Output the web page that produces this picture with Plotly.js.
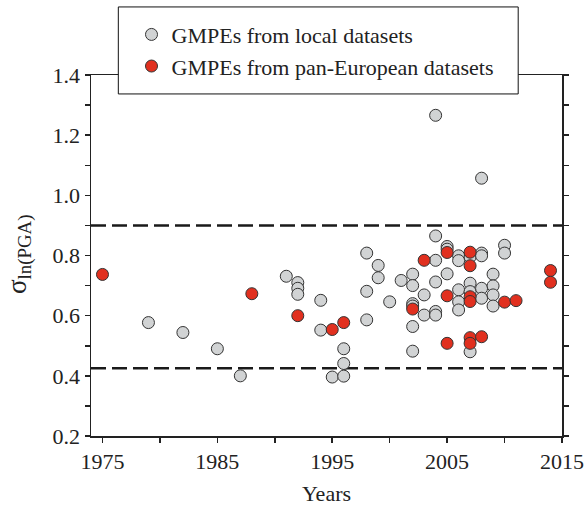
<!DOCTYPE html>
<html>
<head>
<meta charset="utf-8">
<script src="https://cdn.plot.ly/plotly-3.0.1.min.js"></script>
<style>html,body{margin:0;padding:0;background:#fff;}#chart{width:588px;height:507px;}</style>
</head>
<body>
<div id="chart"></div>
<script>
// GMPEs from local datasets
const localYears = [1979,1982,1985,1987,1991,1992,1992,1992,1994,1994,1995,1996,1996,1996,
  1998,1998,1998,1999,1999,2000,2001,2002,2002,2002,2002,2002,2002,2003,2003,
  2004,2004,2004,2004,2004,2004,2005,2005,2005,2006,2006,2006,2006,2006,
  2007,2007,2007,2007,2008,2008,2008,2008,2008,2009,2009,2009,2009,2010,2010];
const localSigma = [0.577,0.544,0.490,0.400,0.731,0.710,0.691,0.671,0.651,0.552,0.396,0.490,0.441,0.399,
  0.808,0.681,0.586,0.767,0.726,0.646,0.717,0.738,0.700,0.640,0.632,0.564,0.482,0.669,0.602,
  1.266,0.865,0.784,0.712,0.614,0.602,0.830,0.821,0.739,0.799,0.783,0.686,0.646,0.619,
  0.795,0.708,0.680,0.480,1.057,0.808,0.799,0.691,0.658,0.738,0.699,0.669,0.632,0.834,0.808];
// GMPEs from pan-European datasets
const panYears = [1975,1988,1992,1995,1996,2002,2003,2005,2005,2005,2007,2007,2007,2007,2007,2007,2008,2010,2011,2014,2014];
const panSigma = [0.737,0.673,0.600,0.554,0.577,0.622,0.784,0.810,0.666,0.508,0.811,0.766,0.663,0.647,0.527,0.508,0.530,0.645,0.650,0.750,0.711];
// reference levels (dashed lines)
const refLevels = [0.9, 0.425];
const seriesNames = ['GMPEs from local datasets', 'GMPEs from pan-European datasets'];
const xTickVals = [1975, 1985, 1995, 2005, 2015];
const yTitle = 'σ<sub>ln(PGA)</sub>';

const axisColor = '#222';
const serif = '"Liberation Serif", serif';

const traces = [
  {x: localYears, y: localSigma, name: seriesNames[0], type: 'scatter', mode: 'markers',
   marker: {size: 12, color: '#d1d3d4', line: {color: '#333', width: 1}}},
  {x: panYears, y: panSigma, name: seriesNames[1], type: 'scatter', mode: 'markers',
   marker: {size: 12, color: '#e1301f', line: {color: '#333', width: 1}}}
];

const shapes = refLevels.map(v => ({
  type: 'line', xref: 'paper', x0: 0, x1: 1, yref: 'y', y0: v, y1: v, layer: 'below',
  line: {color: '#1a1a1a', width: 2.5, dash: '15px,6px'}
}));
shapes.push({type: 'rect', xref: 'paper', yref: 'paper', x0: 0.058, x1: 0.907, y0: 0.9475, y1: 1.1885,
  fillcolor: '#fff', line: {color: '#111', width: 1}, layer: 'above'});

const layout = {
  width: 588, height: 507,
  margin: {l: 91, r: 25.5, t: 75.3, b: 71, pad: 0},
  paper_bgcolor: '#fff', plot_bgcolor: '#fff',
  font: {family: serif, size: 22, color: '#222'},
  showlegend: true,
  legend: {x: 0.086, xanchor: 'left', y: 1.17, yanchor: 'top', bgcolor: 'rgba(0,0,0,0)', borderwidth: 0,
    font: {family: serif, size: 22, color: '#222'}, tracegroupgap: 0},
  xaxis: {range: [1974, 2015], tickvals: xTickVals, ticks: 'outside', ticklen: 5, tickwidth: 1.5, tickcolor: axisColor,
    minor: {dtick: 5, tick0: 1975, ticks: 'outside', ticklen: 5, tickwidth: 1.5, tickcolor: axisColor},
    showline: true, linecolor: axisColor, linewidth: 1.5, mirror: true, showgrid: false, zeroline: false,
    tickfont: {family: serif, size: 22, color: '#222'},
    title: {text: 'Years', font: {family: serif, size: 22, color: '#222'}, standoff: 12}},
  yaxis: {range: [0.2, 1.4], dtick: 0.2, tick0: 0.2, tickformat: '.1f', ticks: 'outside', ticklen: 5, tickwidth: 1.5, tickcolor: axisColor,
    minor: {dtick: 0.1, tick0: 0.2, ticks: 'outside', ticklen: 5, tickwidth: 1.5, tickcolor: axisColor},
    showline: true, linecolor: axisColor, linewidth: 1.5, mirror: 'ticks', showgrid: false, zeroline: false,
    tickfont: {family: serif, size: 22, color: '#222'}},
  annotations: [{text: yTitle, xref: 'paper', yref: 'paper', x: -0.152, y: 0.505, xanchor: 'center', yanchor: 'middle',
    textangle: -90, showarrow: false, font: {family: serif, size: 27, color: '#222'}}],
  shapes: shapes
};

Plotly.newPlot('chart', traces, layout, {displayModeBar: false, staticPlot: true});
</script>
</body>
</html>
